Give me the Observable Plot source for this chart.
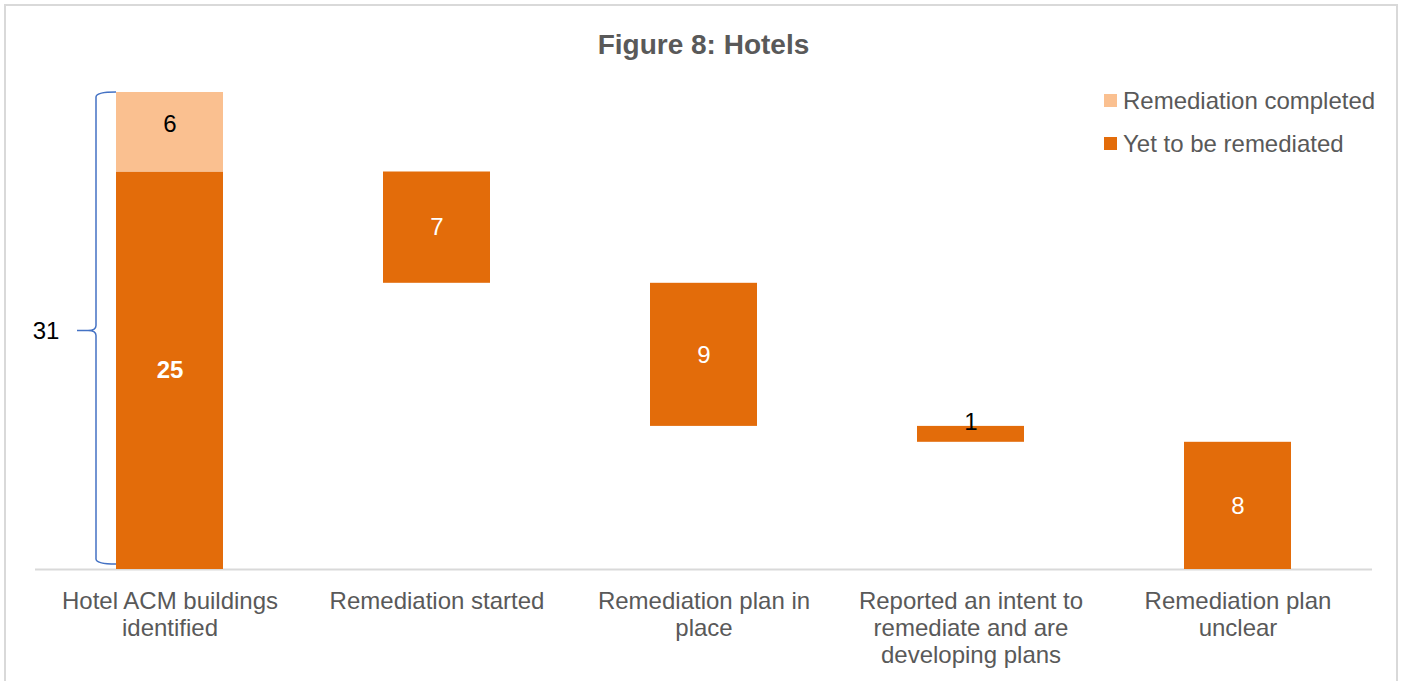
<!DOCTYPE html>
<html>
<head>
<meta charset="utf-8">
<script src="https://cdn.jsdelivr.net/npm/d3@7"></script>
<script src="https://cdn.jsdelivr.net/npm/@observablehq/plot@0.6"></script>
<style>
  html, body { margin: 0; padding: 0; background: #fff; overflow: hidden; }
  #wrap { position: relative; width: 1407px; height: 681px; font-family: "Liberation Sans", Arial, sans-serif; }
  #frame { position: absolute; left: 4px; top: 4px; width: 1394px; height: 720px; border: 2px solid #d9d9d9; box-sizing: border-box; }
  #title { position: absolute; left: 0; width: 1407px; top: 28px; text-align: center; font-size: 28px; font-weight: bold; color: #595959; line-height: 34px; }
  #legend { position: absolute; left: 1104px; top: 79px; font-size: 24px; color: #595959; }
  .item { display: flex; align-items: center; height: 43px; }
  .sw { width: 13px; height: 13px; margin-right: 6px; }
  #chart { position: absolute; left: 0; top: 0; }
</style>
</head>
<body>
<div id="wrap">
  <div id="frame"></div>
  <div id="chart"></div>
  <div id="title">Figure 8: Hotels</div>
  <div id="legend"></div>
</div>
<script>
const categories = [
  "Hotel ACM buildings\nidentified",
  "Remediation started",
  "Remediation plan in\nplace",
  "Reported an intent to\nremediate and are\ndeveloping plans",
  "Remediation plan\nunclear"
];
const yetValues = [25, 7, 9, 1, 8];
const completedValues = [6, 0, 0, 0, 0];
const seriesNames = ["Remediation completed", "Yet to be remediated"];
const seriesColors = ["#FAC090", "#E36C0A"];
const yMax = 30;

// build waterfall segments
const rows = [];
let running = yetValues[0];
rows.push({cat: categories[0], y1: 0, y2: yetValues[0], v: yetValues[0], s: 1, first: true});
rows.push({cat: categories[0], y1: yetValues[0], y2: yetValues[0] + completedValues[0], v: completedValues[0], s: 0, first: true});
for (let i = 1; i < categories.length; i++) {
  rows.push({cat: categories[i], y1: running - yetValues[i], y2: running, v: yetValues[i], s: 1, first: false});
  running -= yetValues[i];
}
const total = yetValues[0] + completedValues[0];

const boldRows = rows.filter(d => d.first && d.s === 1);
const inside = rows.filter(d => d.v > 1 && !(d.first && d.s === 1));
const small = rows.filter(d => d.v <= 1);

const brace = (index, scales, values, dimensions) => {
  const x = scales.x(categories[0]);
  const bx = x - 20;
  const yt = scales.y(yMax), yb = scales.y(0);
  const ym = (yt + yb) / 2;
  const path = `M${x},${yt} Q${bx},${yt} ${bx},${yt + 5} L${bx},${ym - 5} Q${bx},${ym} ${bx - 8},${ym} L${bx - 19},${ym} L${bx - 8},${ym} Q${bx},${ym} ${bx},${ym + 5} L${bx},${yb - 10} Q${bx},${yb - 5} ${x},${yb - 5}`;
  const g = d3.create("svg:path")
    .attr("d", path)
    .attr("fill", "none")
    .attr("stroke", "#4472C4")
    .attr("stroke-width", 1.5);
  return g.node();
};

const plot = Plot.plot({
  width: 1407,
  height: 681,
  marginTop: 92,
  marginBottom: 112,
  marginLeft: 35,
  marginRight: 35,
  style: {fontFamily: "Liberation Sans, Arial, sans-serif", background: "transparent"},
  x: {domain: categories, paddingInner: 0.6, paddingOuter: 0.3},
  y: {domain: [0, yMax], axis: null},
  marks: [
    Plot.ruleY([0], {stroke: "#d9d9d9", strokeWidth: 2}),
    Plot.barY(rows, {x: "cat", y1: "y1", y2: "y2", fill: d => seriesColors[d.s], clip: true}),
    brace,
    Plot.text([total], {x: () => categories[0], y: yMax / 2, text: d => String(d), dx: -124, fontSize: 24, fill: "#000"}),
    Plot.text(inside, {x: "cat", y: d => (d.y1 + d.y2) / 2, text: d => String(d.v), fontSize: 24,
      fill: d => d.s === 0 ? "#000" : "#fff"}),
    Plot.text(boldRows, {x: "cat", y: d => (d.y1 + d.y2) / 2, text: d => String(d.v), fontSize: 24,
      fill: "#fff", fontWeight: "bold"}),
    Plot.text(small, {x: "cat", y: "y2", text: d => String(d.v), fontSize: 24, fill: "#000", lineAnchor: "bottom", dy: 4}),
    Plot.axisX({tickSize: 0, tickPadding: 20, fontSize: 24, lineHeight: 1.125, fill: "#595959", label: null})
  ]
});
document.getElementById("chart").appendChild(plot);

const legend = document.getElementById("legend");
seriesNames.forEach((n, i) => {
  const it = document.createElement("div");
  it.className = "item";
  const sw = document.createElement("div");
  sw.className = "sw";
  sw.style.background = seriesColors[i];
  const t = document.createElement("span");
  t.textContent = n;
  it.appendChild(sw); it.appendChild(t);
  legend.appendChild(it);
});
</script>
</body>
</html>
